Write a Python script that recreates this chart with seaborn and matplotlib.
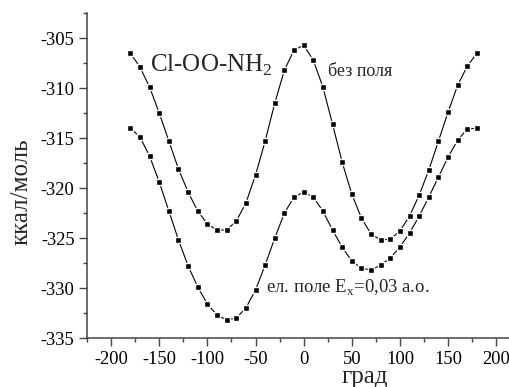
import numpy as np
import pandas as pd
import matplotlib
matplotlib.use("Agg")
import matplotlib.pyplot as plt
import seaborn as sns
from matplotlib.ticker import MultipleLocator

angles = list(range(-180, 181, 10))

# без поля
no_field = [-306.5, -307.9, -309.9, -312.5, -315.3, -318.1, -320.4, -322.3, -323.6, -324.2,
            -324.2, -323.3, -321.5, -318.7, -315.3, -311.5, -308.2, -306.2, -305.7, -307.2,
            -309.9, -313.6, -317.4, -320.6, -323.0, -324.6, -325.2, -325.1, -324.3, -322.8,
            -320.7, -318.2, -315.3, -312.4, -309.7, -307.8, -306.5]

# ел. поле Ex=0,03 а.о.
with_field = [-314.0, -314.9, -316.8, -319.4, -322.3, -325.2, -327.8, -329.9, -331.6, -332.7,
              -333.2, -333.0, -332.0, -330.2, -327.7, -325.0, -322.5, -320.9, -320.4, -320.9,
              -322.3, -324.2, -325.9, -327.3, -328.0, -328.2, -327.7, -327.0, -325.9, -324.5,
              -322.8, -320.9, -318.9, -316.9, -315.2, -314.1, -314.0]

df = pd.DataFrame({
    "angle": angles * 2,
    "energy": no_field + with_field,
    "series": ["без поля"] * len(angles) + ["ел. поле"] * len(angles),
})

sns.set_style("ticks")
plt.rcParams["font.family"] = ["Liberation Serif", "DejaVu Serif"]
plt.rcParams["mathtext.fontset"] = "custom"
plt.rcParams["mathtext.rm"] = "Liberation Serif"
plt.rcParams["axes.unicode_minus"] = False

fig = plt.figure(figsize=(5.09, 3.87), dpi=100)
ax = fig.add_axes([0.171, 0.1266, 0.829, 0.8394])

for name, grp in df.groupby("series"):
    sns.lineplot(data=grp, x="angle", y="energy", ax=ax, color="black", lw=0.8,
                 marker="s", markersize=4.2, markerfacecolor="black",
                 markeredgecolor="white", markeredgewidth=1.0, legend=False)

ax.set_xlim(-225, 213.3)
ax.set_ylim(-335, -302.5)
ax.xaxis.set_major_locator(MultipleLocator(50))
ax.xaxis.set_minor_locator(MultipleLocator(25))
ax.yaxis.set_major_locator(MultipleLocator(5))
ax.yaxis.set_minor_locator(MultipleLocator(2.5))
ax.tick_params(which="major", direction="out", length=6, width=1, labelsize=13.3,
               colors="#444444", labelcolor="black", pad=3)
ax.tick_params(which="minor", direction="out", length=3, width=1, colors="#444444")
sns.despine(ax=ax)
for s in ["left", "bottom"]:
    ax.spines[s].set_color("#444444")
    ax.spines[s].set_linewidth(1.1)

ax.set_xlabel("град", fontsize=18, labelpad=-1)
ax.set_ylabel("ккал/моль", fontsize=18, labelpad=6)
# labels sit off-centre in the original (axis was cropped on the right)
ax.xaxis.label.set_x(0.659)
ax.yaxis.label.set_y(0.449)

ax.text(-160, -307.7, r"Cl-OO-NH$_2$", fontsize=18, va="center", ha="left")
ax.text(25, -308.3, "без поля", fontsize=13, va="center", ha="left")
ax.text(-39, -330.0, r"ел. поле E$_{\mathrm{x}}$=0,03 а.о.", fontsize=13.5, va="center", ha="left")

fig.savefig("out.png", dpi=100)
